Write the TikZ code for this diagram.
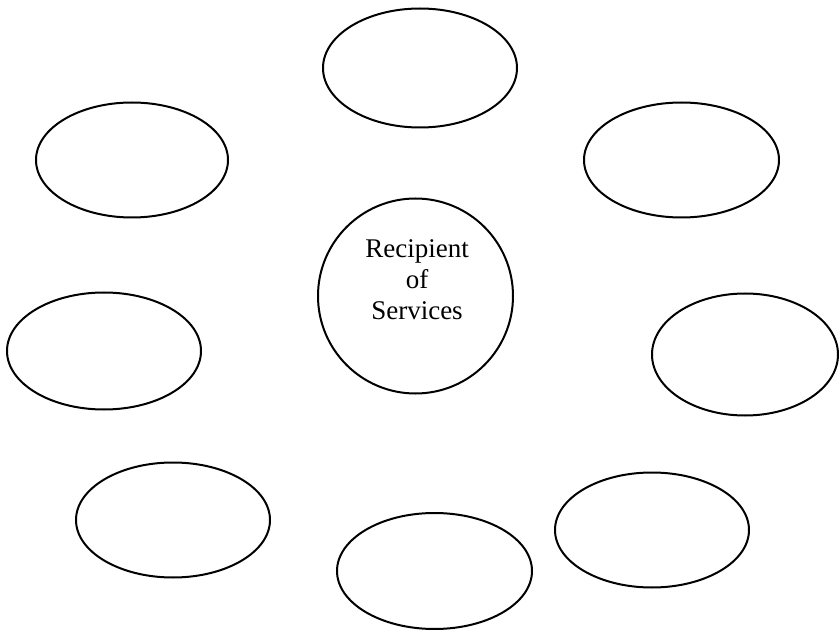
\documentclass[tikz,border=0pt]{standalone}
\usepackage{fontspec}
\setmainfont{Liberation Serif}
\usetikzlibrary{shapes.geometric}
\begin{document}
\begin{tikzpicture}[x=1pt,y=-1pt,
  oval/.style={draw=black, line width=2pt, ellipse, inner sep=0pt, minimum width=194pt, minimum height=116pt},
  roundbox/.style={draw=black, line width=2pt, circle, inner sep=0pt, minimum size=195pt},
  label/.style={align=center, font=\fontsize{27}{31}\selectfont, inner sep=0pt}]
\useasboundingbox[fill=white] (0,0) rectangle (839,631);
\node[oval, minimum height=119pt] (top) at (420,68) {};
\node[oval, minimum width=192pt, minimum height=115pt] (tl) at (132,160) {};
\node[oval, minimum width=195pt, minimum height=115pt] (tr) at (681.5,160) {};
\node[roundbox] (center) at (415.5,296) {};
\node[label] (centertext) at (417,280) {Recipient\\of\\Services};
\node[oval, minimum height=117pt] (ml) at (104,351) {};
\node[oval, minimum width=186pt, minimum height=122pt] (mr) at (745,354.5) {};
\node[oval, minimum height=115pt] (bl) at (173,520) {};
\node[oval, minimum height=115pt] (br) at (652,530) {};
\node[oval, minimum width=195pt] (bc) at (434.5,571) {};
\end{tikzpicture}
\end{document}
